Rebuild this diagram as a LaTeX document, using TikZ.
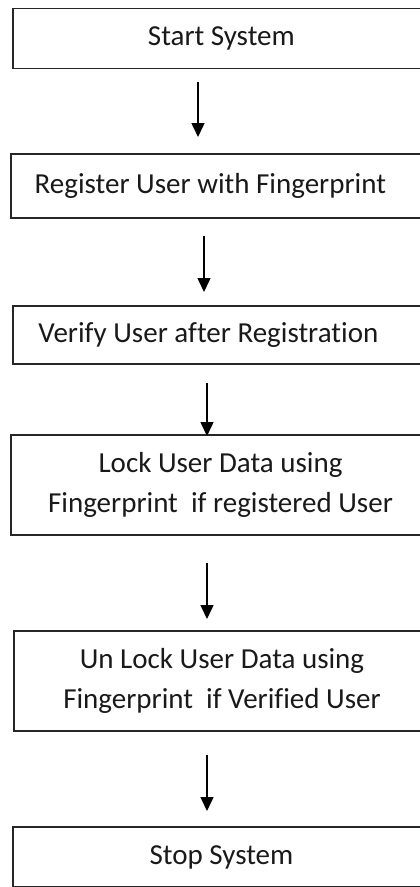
\documentclass[tikz,border=0pt]{standalone}
\usepackage{fontspec}
\setmainfont[Ligatures=NoCommon]{Carlito}
\usetikzlibrary{arrows.meta}
\begin{document}
\begin{tikzpicture}[x=1pt,y=-1pt,
  stepbox/.style={draw=black!85, line width=1.6pt, rectangle, inner sep=0pt, outer sep=0pt,
    align=center, font=\fontsize{29}{40}\selectfont, text=black!90},
  arr/.style={-{Triangle[width=13pt,length=14pt]}, line width=1.5pt, black}]
\useasboundingbox (0,0) rectangle (420,887);
\clip (0,0) rectangle (420,887);
\node[stepbox, minimum width=417.3pt, minimum height=60pt] (s1) at (221.35,38.3) {Start System};
\node[stepbox, minimum width=419.3pt, minimum height=64pt] (s2) at (220.35,186) {\hspace*{-20pt}Register User with Fingerprint};
\node[stepbox, minimum width=417.3pt, minimum height=58pt] (s3) at (221.35,335) {\hspace*{-26pt}Verify User after Registration};
\node[stepbox, minimum width=419pt, minimum height=100pt] (s4) at (220.5,485) {Lock User Data using\\Fingerprint\ \ if registered User};
\node[stepbox, minimum width=416pt, minimum height=100pt] (s5) at (222,681) {Un Lock User Data using\\Fingerprint\ \ if Verified User};
\node[stepbox, minimum width=417pt, minimum height=60pt] (s6) at (221.5,857) {Stop System};
\draw[arr, shorten <=14pt, shorten >=17pt] (s1.south -| 198,0) -- (s2.north -| 198,0);
\draw[arr, shorten <=18pt, shorten >=14pt] (s2.south -| 204,0) -- (s3.north -| 204,0);
\draw[arr, shorten <=19pt, shorten >=-1pt] (s3.south -| 207,0) -- (s4.north -| 207,0);
\draw[arr, shorten <=28pt, shorten >=12pt] (s4.south -| 207,0) -- (s5.north -| 207,0);
\draw[arr, shorten <=24pt, shorten >=16pt] (s5.south -| 207,0) -- (s6.north -| 207,0);
\end{tikzpicture}
\end{document}
